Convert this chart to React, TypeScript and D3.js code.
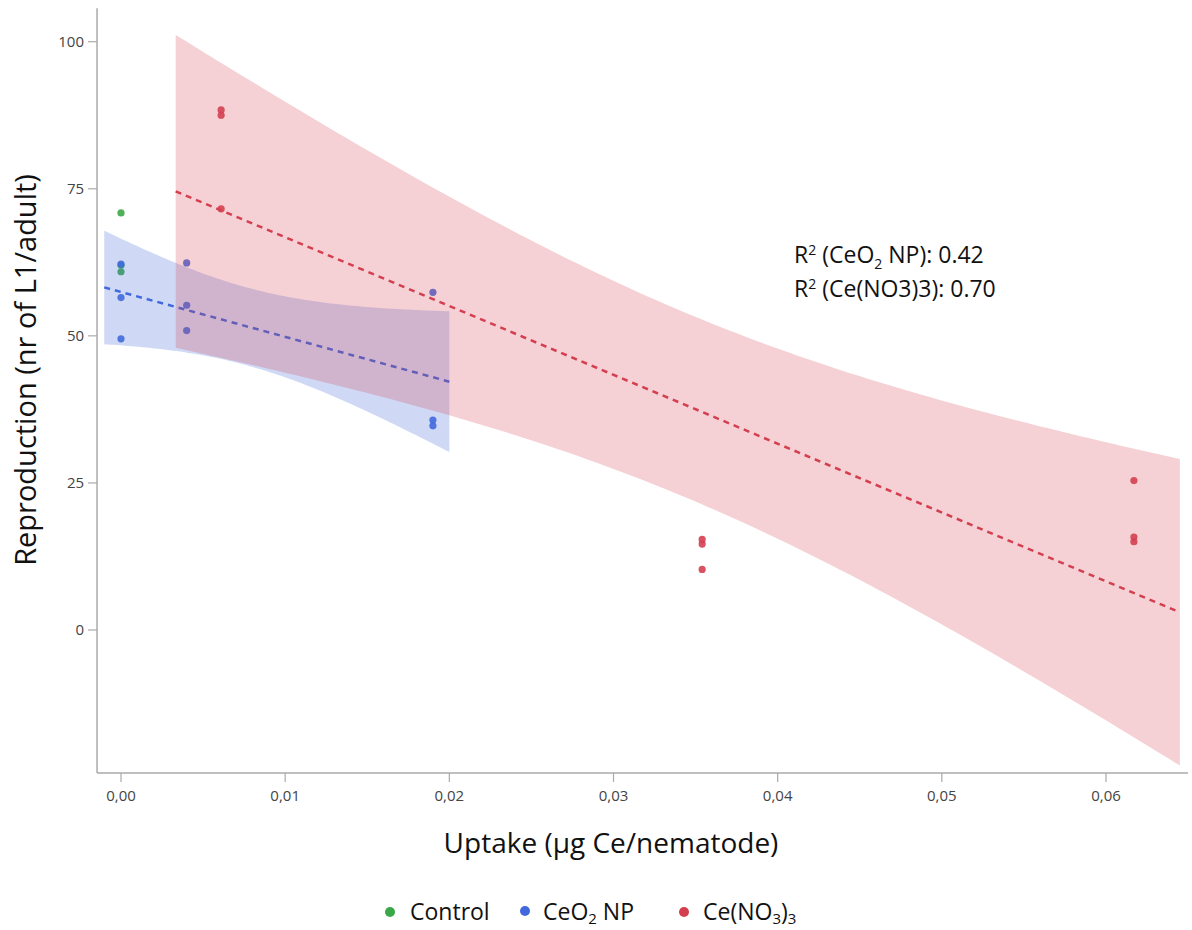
import React from "react";
import * as d3 from "d3";

// ---- data ----
const controlX = [0, 0, 0];
const controlY = [70.9, 62.0, 60.9];
const ceo2X = [0, 0, 0, 0.004, 0.004, 0.004, 0.019, 0.019, 0.019];
const ceo2Y = [62.2, 56.5, 49.5, 62.4, 55.2, 50.9, 57.4, 35.7, 34.7];
const nitX = [0.0061, 0.0061, 0.0061, 0.0354, 0.0354, 0.0354, 0.0617, 0.0617, 0.0617];
const nitY = [88.4, 87.5, 71.6, 15.4, 14.6, 10.3, 25.4, 15.8, 15.0];
const ceo2FitRange = [-0.00102, 0.02];
const nitFitRange = [0.00333, 0.0645];
const xTicks = [0, 0.01, 0.02, 0.03, 0.04, 0.05, 0.06];
const yTicks = [0, 25, 50, 75, 100];
const xDomainExt = [-0.00146, 0.0650];
const yDomainExt = [-24.3, 105.7];
const T_CRIT = 2.365; // t(0.975, df=7)

const GREEN = "#3aa847";
const BLUE = "#4169dc";
const RED = "#d43f50";

function fit(xs: number[], ys: number[]) {
  const n = xs.length;
  const xm = d3.mean(xs)!;
  const ym = d3.mean(ys)!;
  let sxx = 0, sxy = 0;
  for (let i = 0; i < n; i++) {
    sxx += (xs[i] - xm) ** 2;
    sxy += (xs[i] - xm) * (ys[i] - ym);
  }
  const b = sxy / sxx;
  const a = ym - b * xm;
  let sse = 0;
  for (let i = 0; i < n; i++) sse += (ys[i] - (a + b * xs[i])) ** 2;
  const s = Math.sqrt(sse / (n - 2));
  const pred = (x: number) => a + b * x;
  const hw = (x: number) => T_CRIT * s * Math.sqrt(1 / n + (x - xm) ** 2 / sxx);
  return { pred, hw };
}

export default function App() {
  const x = d3.scaleLinear().domain([0, 0.06]).range([121, 1106]);
  const y = d3.scaleLinear().domain([0, 100]).range([630, 41.7]);
  const x0 = x(xDomainExt[0]);
  const x1 = x(xDomainExt[1]);
  const y0 = y(yDomainExt[0]);
  const y1 = y(yDomainExt[1]);

  const bandPath = (xs: number[], ys: number[], range: number[]) => {
    const f = fit(xs, ys);
    const samples = d3.range(0, 101).map((i) => range[0] + ((range[1] - range[0]) * i) / 100);
    const area = d3
      .area<number>()
      .x((d) => x(d))
      .y0((d) => y(f.pred(d) - f.hw(d)))
      .y1((d) => y(f.pred(d) + f.hw(d)));
    const line = d3
      .line<number>()
      .x((d) => x(d))
      .y((d) => y(f.pred(d)));
    return { area: area(samples)!, line: line([range[0], range[1]])! };
  };

  const blue = bandPath(ceo2X, ceo2Y, ceo2FitRange);
  const red = bandPath(nitX, nitY, nitFitRange);

  const dots = (xs: number[], ys: number[], color: string) =>
    xs.map((xv, i) => (
      <circle key={i} cx={x(xv)} cy={y(ys[i])} r={3.6} fill={color} opacity={0.9} />
    ));

  const tickFont = "'Open Sans', 'DejaVu Sans', sans-serif";
  const titleFont = "'Open Sans', 'Noto Sans', sans-serif";

  return (
    <svg
      width={1192}
      height={930}
      style={{ position: "absolute", left: 0, top: 0, background: "#fff" }}
    >
      {/* axes */}
      <line x1={x0} x2={x0} y1={y1} y2={y0} stroke="#aaa" strokeWidth={1.5} />
      <line x1={x0} x2={x1} y1={y0} y2={y0} stroke="#aaa" strokeWidth={1.5} />
      {yTicks.map((t) => (
        <g key={t}>
          <line x1={x0 - 9} x2={x0} y1={y(t)} y2={y(t)} stroke="#aaa" strokeWidth={1.2} />
          <text
            x={x0 - 13}
            y={y(t)}
            dy="0.36em"
            textAnchor="end"
            fontFamily={tickFont}
            fontSize={15}
            fill="#444"
          >
            {t}
          </text>
        </g>
      ))}
      {xTicks.map((t) => (
        <g key={t}>
          <line x1={x(t)} x2={x(t)} y1={y0} y2={y0 + 9} stroke="#aaa" strokeWidth={1.2} />
          <text
            x={x(t)}
            y={y0 + 28}
            textAnchor="middle"
            fontFamily={tickFont}
            fontSize={15}
            fill="#444"
          >
            {d3.format(".2f")(t).replace(".", ",")}
          </text>
        </g>
      ))}

      {/* control */}
      {dots(controlX, controlY, GREEN)}

      {/* CeO2 NP */}
      <path d={blue.area} fill={BLUE} fillOpacity={0.25} />
      <path d={blue.line} stroke={BLUE} strokeWidth={2.5} strokeDasharray="6,5" fill="none" />
      {dots(ceo2X, ceo2Y, BLUE)}

      {/* Ce(NO3)3 */}
      <path d={red.area} fill={RED} fillOpacity={0.24} />
      <path d={red.line} stroke={RED} strokeWidth={2.5} strokeDasharray="6,5" fill="none" />
      {dots(nitX, nitY, RED)}

      {/* R2 annotation */}
      <g fontFamily={titleFont} fontSize={23} fill="#111">
        <text x={794} y={263}>
          R<tspan dy={-8} fontSize={14}>2</tspan>
          <tspan dy={8}> (CeO</tspan>
          <tspan dy={6} fontSize={14}>2</tspan>
          <tspan dy={-6}> NP): 0.42</tspan>
        </text>
        <text x={794} y={297}>
          R<tspan dy={-8} fontSize={14}>2</tspan>
          <tspan dy={8}> (Ce(NO3)3): 0.70</tspan>
        </text>
      </g>

      {/* axis titles */}
      <text
        x={611}
        y={853}
        textAnchor="middle"
        fontFamily={titleFont}
        fontSize={28}
        fill="#111"
      >
        Uptake (μg Ce/nematode)
      </text>
      <text
        transform={`translate(36,370) rotate(-90)`}
        textAnchor="middle"
        fontFamily={titleFont}
        fontSize={29}
        fill="#111"
      >
        Reproduction (nr of L1/adult)
      </text>

      {/* legend */}
      <g fontFamily={titleFont} fontSize={23} fill="#111">
        <circle cx={390} cy={912} r={5} fill={GREEN} />
        <text x={410} y={920}>Control</text>
        <circle cx={525} cy={911} r={5} fill={BLUE} />
        <text x={543} y={920}>
          CeO<tspan dy={4} fontSize={15}>2</tspan>
          <tspan dy={-4}> NP</tspan>
        </text>
        <circle cx={684} cy={912} r={5} fill={RED} />
        <text x={703} y={920}>
          Ce(NO<tspan dy={4} fontSize={15}>3</tspan>
          <tspan dy={-4}>)</tspan>
          <tspan dy={4} fontSize={15}>3</tspan>
        </text>
      </g>
    </svg>
  );
}
